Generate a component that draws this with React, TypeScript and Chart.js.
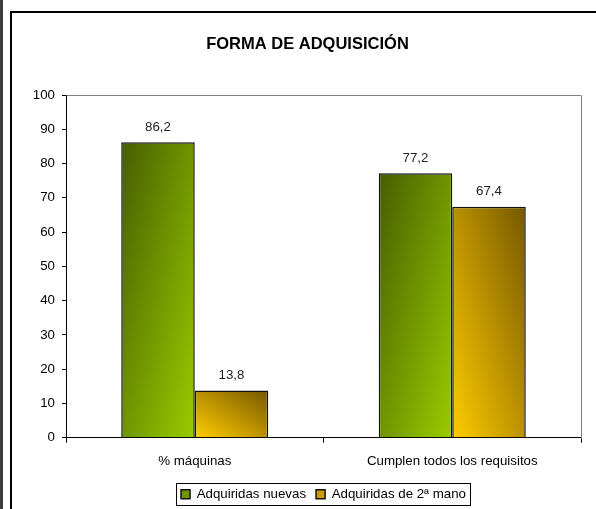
import React, { useEffect, useRef } from "react";
import { Chart, registerables } from "chart.js";

Chart.register(...registerables);

const chartTitle = "FORMA DE ADQUISICIÓN";
const categories = ["% máquinas", "Cumplen todos los requisitos"];
const seriesNames = ["Adquiridas nuevas", "Adquiridas de 2ª mano"];
const nuevas = [86.2, 77.2];
const segundaMano = [13.8, 67.4];
const yMin = 0;
const yMax = 100;
const yStep = 10;

const FONT = "'Liberation Sans', Arial, sans-serif";
const FS = 13.3;

const fmt = (v: number) => v.toFixed(1).replace(".", ",");

const gradientPlugin = {
  id: "barGradients",
  beforeDatasetsDraw(chart: any) {
    const ctx = chart.ctx as CanvasRenderingContext2D;
    const ca = chart.chartArea;
    ctx.save();
    ctx.strokeStyle = "#808080";
    ctx.lineWidth = 1;
    ctx.beginPath();
    ctx.moveTo(Math.round(ca.left) + 0.5, Math.round(ca.top) + 0.5);
    ctx.lineTo(Math.round(ca.right) + 0.5, Math.round(ca.top) + 0.5);
    ctx.lineTo(Math.round(ca.right) + 0.5, Math.round(ca.bottom) + 0.5);
    ctx.stroke();
    ctx.restore();

    chart.data.datasets.forEach((ds: any, di: number) => {
      const meta = chart.getDatasetMeta(di);
      meta.data.forEach((el: any) => {
        const { x, y, base, width } = el.getProps(["x", "y", "base", "width"], true);
        const left = x - width / 2;
        const top = Math.min(y, base);
        const bottom = Math.max(y, base);
        const w = width;
        const h = bottom - top;
        const d = h * h + w * w;
        let g: CanvasGradient;
        if (di === 0) {
          g = ctx.createLinearGradient(left, top, left + (2 * w * h * h) / d, top + (2 * w * w * h) / d);
          g.addColorStop(0, "#465e00");
          g.addColorStop(1, "#9acc00");
        } else {
          g = ctx.createLinearGradient(left, bottom, left + (2 * w * h * h) / d, bottom - (2 * w * w * h) / d);
          g.addColorStop(0, "#ffcc00");
          g.addColorStop(1, "#765800");
        }
        el.options = Object.assign({}, el.options, { backgroundColor: g });
      });
    });
  },
  afterDatasetsDraw(chart: any) {
    const ctx = chart.ctx as CanvasRenderingContext2D;
    ctx.save();
    ctx.font = `${FS}px ${FONT}`;
    ctx.fillStyle = "#222";
    ctx.textAlign = "center";
    ctx.textBaseline = "middle";
    chart.data.datasets.forEach((ds: any, di: number) => {
      const meta = chart.getDatasetMeta(di);
      meta.data.forEach((el: any, i: number) => {
        const { x, y } = el.getProps(["x", "y"], true);
        ctx.fillText(fmt(ds.data[i]), x, y - 15);
      });
    });
    ctx.restore();
  },
  afterDraw(chart: any) {
    const ctx = chart.ctx as CanvasRenderingContext2D;
    ctx.save();
    ctx.font = `bold 16.5px ${FONT}`;
    ctx.fillStyle = "#000";
    ctx.textAlign = "center";
    ctx.textBaseline = "middle";
    ctx.fillText(chartTitle, 295.5, 31);
    ctx.restore();
    const lg = chart.legend;
    if (lg && lg.legendHitBoxes && lg.legendHitBoxes.length) {
      const boxes = lg.legendHitBoxes;
      let l = Infinity, r = -Infinity, cy = 0;
      boxes.forEach((b: any) => {
        l = Math.min(l, b.left);
        r = Math.max(r, b.left + b.width);
        cy += b.top + b.height / 2;
      });
      cy /= boxes.length;
      ctx.save();
      ctx.strokeStyle = "#000";
      ctx.lineWidth = 1;
      ctx.strokeRect(Math.round(l - 5) + 0.5, Math.round(cy - 11) + 0.5, Math.round(r - l + 9), 22);
      ctx.restore();
    }
  },
};

export default function App() {
  const ref = useRef<HTMLCanvasElement>(null);

  useEffect(() => {
    document.body.style.margin = "0";
    document.body.style.overflow = "hidden";
    const chart = new Chart(ref.current as HTMLCanvasElement, {
      type: "bar",
      data: {
        labels: categories,
        datasets: [
          {
            label: seriesNames[0],
            data: nuevas,
            backgroundColor: "#6f9600",
            borderColor: "#111",
            borderWidth: 1.5,
          },
          {
            label: seriesNames[1],
            data: segundaMano,
            backgroundColor: "#c9a000",
            borderColor: "#111",
            borderWidth: 1.5,
          },
        ],
      },
      options: {
        animation: false,
        responsive: false,
        maintainAspectRatio: false,
        datasets: {
          bar: { barPercentage: 1, categoryPercentage: 0.571 },
        },
        layout: { padding: { top: 82, right: 15, bottom: 2, left: 0 } },
        plugins: {
          title: { display: false },
          tooltip: { enabled: false },
          legend: {
            position: "bottom",
            fullSize: false,
            labels: {
              font: { family: FONT, size: FS },
              color: "#000",
              boxWidth: 9,
              boxHeight: 9,
              padding: 10,
            },
          },
        },
        scales: {
          x: {
            afterFit(scale: any) {
              scale.height = 40;
            },
            grid: {
              offset: true,
              drawOnChartArea: false,
              tickLength: 5,
              color: "#000",
            },
            border: { color: "#000", width: 1 },
            ticks: {
              padding: 11,
              color: "#000",
              font: { family: FONT, size: FS },
            },
          },
          y: {
            min: yMin,
            max: yMax,
            afterFit(scale: any) {
              scale.width = 54;
            },
            grid: {
              drawOnChartArea: false,
              tickLength: 4,
              color: "#000",
            },
            border: { color: "#000", width: 1 },
            ticks: {
              stepSize: yStep,
              padding: 7,
              color: "#000",
              font: { family: FONT, size: FS },
            },
          },
        },
      },
      plugins: [gradientPlugin],
    } as any);
    return () => chart.destroy();
  }, []);

  return (
    <div style={{ position: "relative", width: 596, height: 509, overflow: "hidden", background: "#fff" }}>
      <div style={{ position: "absolute", left: 0, top: 0, width: 3, height: 509, background: "#3c3c3c" }} />
      <div
        style={{
          position: "absolute",
          left: 10,
          top: 11,
          width: 700,
          height: 700,
          border: "2px solid #000",
          boxSizing: "border-box",
        }}
      />
      <canvas
        ref={ref}
        width={584}
        height={500}
        style={{ position: "absolute", left: 12, top: 13, width: 584, height: 500 }}
      />
    </div>
  );
}
